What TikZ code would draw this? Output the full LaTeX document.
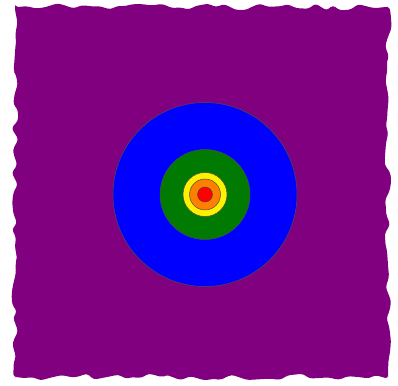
\documentclass[tikz,border=0pt]{standalone}
\usetikzlibrary{decorations.pathmorphing}
\definecolor{pur}{HTML}{800080}
\definecolor{grn}{HTML}{007A00}
\definecolor{org}{HTML}{FF7F00}
\tikzset{ring/.style={draw=black!70, line width=0.5pt}}
\begin{document}
\begin{tikzpicture}[x=1pt,y=1pt]
\pgfmathsetseed{7}
\useasboundingbox (0,0) rectangle (398,385);
\fill[pur, rounded corners=3pt, decorate, decoration={random steps, segment length=9pt, amplitude=3.5pt}]
  (15,378) -- (388,378) -- (388,8) -- (15,8) -- cycle;
\coordinate (c) at (205,190.5);
\fill[blue, ring] (c) circle (92);
\fill[grn, ring] (c) circle (45);
\fill[yellow, ring] (c) circle (22);
\fill[org, ring] (c) circle (15.5);
\fill[red, ring] (c) circle (7.5);
\end{tikzpicture}
\end{document}
